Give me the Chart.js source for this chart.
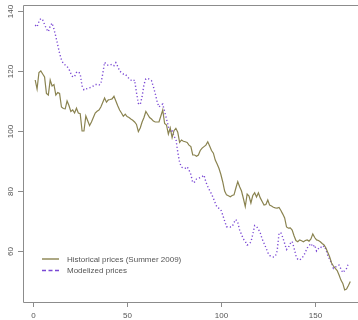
<!DOCTYPE html>
<html>
<head>
<meta charset="utf-8">
<script src="https://cdn.jsdelivr.net/npm/chart.js@4.4.1/dist/chart.umd.min.js"></script>
<style>
  html, body { margin: 0; padding: 0; background: #ffffff; }
  #wrap { width: 358px; height: 320px; position: relative; }
</style>
</head>
<body>
<div id="wrap"><canvas id="c" width="358" height="320"></canvas></div>
<script>
// Daily prices, days 1..169
const historical = [
  117, 114, 119.5, 120, 119, 118, 112.5, 112, 117, 115,
  115.5, 112, 112.8, 112.5, 108, 107.5, 107.4, 110, 108.5, 106.5,
  107, 106, 107.6, 106, 105.8, 100, 100, 105, 103.4, 101.8,
  103, 104.5, 106, 106.6, 107, 108, 109.5, 111, 109.6, 110.4,
  110.5, 110.7, 111.6, 110, 108.4, 107, 106, 104.9, 105.6, 104.8,
  104.5, 104, 103.6, 103, 102.2, 99.8, 101, 103, 104.5, 106.5,
  105.5, 104.5, 104, 103.3, 103, 103, 103, 105, 107, 102.5,
  102, 99, 101, 97.8, 100.1, 100.9, 99.6, 96.2, 97, 96.6,
  96.4, 96.2, 95.3, 94.8, 92, 92, 91.6, 92, 93.5, 94.3,
  94.8, 95.3, 96.4, 95, 93.5, 92.6, 90.3, 89, 87.5, 85.5,
  83, 80, 78.7, 78.4, 78.1, 78.5, 78.7, 81, 83.1, 81.4,
  80, 77.5, 74.8, 79, 78.3, 76, 78.5, 79.4, 78, 79.4,
  77.7, 76.5, 75.3, 75.5, 77, 75.3, 75, 74.6, 74.4, 74.3,
  74.5, 73.5, 72.3, 71, 68, 67.6, 67.7, 67, 65.1, 63.5,
  63.1, 63.7, 63.4, 63.1, 63.5, 63.7, 63.3, 64, 65.7, 64.5,
  63.7, 63.5, 63.1, 62.5, 62, 61, 59.5, 58, 56, 55,
  54.2, 53.5, 52, 50.3, 49.2, 47, 47.3, 48.5, 49.8
];

const modelized = [
  135.3, 134.7, 136.5, 137.5, 137, 135.5, 134, 133.1, 135, 136,
  134, 131.5, 128.7, 125.9, 123.7, 122.5, 122, 121.5, 120.6, 119.2,
  118, 118.2, 119.5, 119.8, 119, 115, 113.7, 114, 114.2, 114.4,
  114.7, 115, 115.5, 115.5, 115.3, 115.7, 119, 122.9, 122.1, 121.9,
  122, 122.3, 121.8, 122.8, 121.5, 120, 119.5, 119, 119, 118.2,
  117.5, 117, 116.6, 117, 112.8, 109.2, 108.8, 111.5, 115.5, 117.4,
  117.5, 117.2, 116.8, 114.8, 112.5, 109.8, 108, 108.6, 109, 106.5,
  104, 101.5, 99.5, 100.5, 98.1, 97.5, 93, 89.5, 88, 87.6,
  87.6, 88.1, 87, 85.5, 82.8, 83, 84, 84.2, 84.5, 84.8,
  85.3, 83, 81.5, 80.2, 79, 77.6, 76, 74.5, 74.2, 73.7,
  72, 70, 68.1, 68.1, 68, 68.1, 69.5, 70.5, 69.5, 67,
  65.5, 64, 63.2, 62, 62.3, 63, 65.5, 68.5, 68.2, 67.3,
  66, 64, 62.6, 61.1, 59.5, 58.5, 58.1, 58, 58.2, 60,
  66, 66, 64.5, 62.5, 60.5, 61.2, 62.5, 63.2, 61, 58.5,
  57.2, 57, 57.5, 58.3, 59.5, 61, 61.8, 62.5, 61.4, 62,
  60, 60.8, 61.4, 61, 61.7, 60.5, 58.5, 57.2, 56, 54.2,
  54.6, 55, 55.3, 54, 52.8, 53.5, 54.2, 55.9
];

const seriesNames = ['Historical prices (Summer 2009)', 'Modelized prices'];
const xTicks = [0, 50, 100, 150];
const yTicks = [60, 80, 100, 120, 140];

const olive = '#8a8350';
const violet = '#7a48d4';
const frameColor = '#8c8c8c';
const labelColor = '#555555';
const fontFamily = '"Liberation Sans", Arial, sans-serif';

const toPoints = arr => arr.map((v, k) => ({ x: k + 1, y: v }));

// Axes, box and legend drawn R-style on top of the chart area
const rStyle = {
  id: 'rStyle',
  afterDraw(chart) {
    const { ctx, chartArea: a, scales: { x, y } } = chart;
    ctx.save();
    ctx.strokeStyle = frameColor;
    ctx.lineWidth = 1;
    ctx.beginPath();
    ctx.moveTo(chart.width, a.top + 0.5);
    ctx.lineTo(a.left + 0.5, a.top + 0.5);
    ctx.lineTo(a.left + 0.5, a.bottom + 0.5);
    ctx.lineTo(chart.width, a.bottom + 0.5);
    ctx.stroke();

    ctx.fillStyle = labelColor;
    ctx.font = '8px ' + fontFamily;

    // bottom axis
    ctx.textAlign = 'center';
    ctx.textBaseline = 'middle';
    xTicks.forEach(t => {
      const px = Math.round(x.getPixelForValue(t)) + 0.5;
      ctx.beginPath();
      ctx.moveTo(px, a.bottom + 1);
      ctx.lineTo(px, a.bottom + 5);
      ctx.stroke();
      ctx.fillText(String(t), px, a.bottom + 14);
    });

    // left axis, labels rotated
    yTicks.forEach(t => {
      const py = Math.round(y.getPixelForValue(t)) + 0.5;
      ctx.beginPath();
      ctx.moveTo(a.left - 5, py);
      ctx.lineTo(a.left, py);
      ctx.stroke();
      ctx.save();
      ctx.translate(11, py);
      ctx.rotate(-Math.PI / 2);
      ctx.fillText(String(t), 0, 0);
      ctx.restore();
    });

    // legend
    const lx = 42, ly = 259, gap = 11.5;
    chart.data.datasets.forEach((ds, k) => {
      const yy = ly + k * gap;
      ctx.save();
      ctx.strokeStyle = ds.borderColor;
      ctx.lineWidth = 1.4;
      ctx.setLineDash(k === 1 ? [4, 2.5] : []);
      ctx.beginPath();
      ctx.moveTo(lx, yy);
      ctx.lineTo(lx + 17, yy);
      ctx.stroke();
      ctx.restore();
      ctx.textAlign = 'left';
      ctx.fillStyle = labelColor;
      ctx.fillText(ds.label, lx + 25, yy + 0.5);
    });
    ctx.restore();
  }
};

new Chart(document.getElementById('c'), {
  type: 'line',
  data: {
    datasets: [
      {
        label: seriesNames[0],
        data: toPoints(historical),
        borderColor: olive,
        borderWidth: 1.2,
        pointRadius: 0,
        tension: 0,
        fill: false
      },
      {
        label: seriesNames[1],
        data: toPoints(modelized),
        borderColor: violet,
        borderWidth: 1.4,
        borderDash: [1.2, 2.3],
        pointRadius: 0,
        tension: 0,
        fill: false
      }
    ]
  },
  options: {
    responsive: false,
    animation: false,
    devicePixelRatio: 1,
    layout: { padding: { top: 5, left: 0, right: 0, bottom: 0 } },
    plugins: { legend: { display: false }, tooltip: { enabled: false } },
    scales: {
      x: {
        type: 'linear',
        min: -5.5,
        max: 173.1,
        ticks: { display: false },
        grid: { display: false },
        border: { display: false },
        afterFit(s) { s.height = 18; }
      },
      y: {
        type: 'linear',
        min: 43,
        max: 142,
        ticks: { display: false },
        grid: { display: false },
        border: { display: false },
        afterFit(s) { s.width = 23; }
      }
    }
  },
  plugins: [rStyle]
});
</script>
</body>
</html>
